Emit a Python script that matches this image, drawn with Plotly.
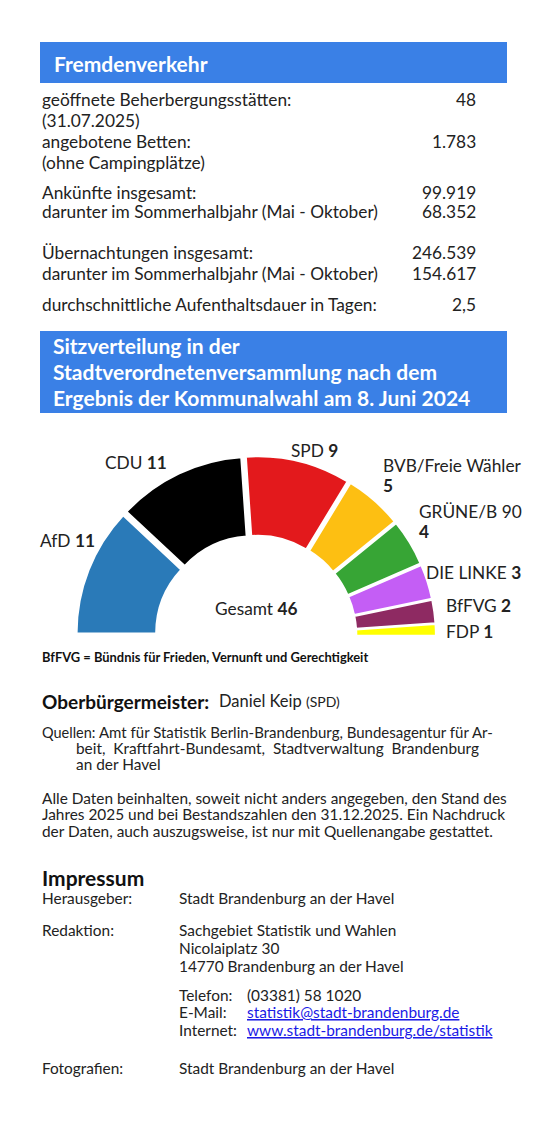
import plotly.graph_objects as go

W, H = 552, 1128
parties = ["AfD", "CDU", "SPD", "BVB/Freie Wähler", "GRÜNE/B 90", "DIE LINKE", "BfFVG", "FDP"]
seats = [11, 11, 9, 5, 4, 3, 2, 1]
colors = ["#2a7ab8", "#000000", "#e3191c", "#fdbf12", "#37a535", "#c45ef5", "#8e2a62", "#ffff00"]
total = sum(seats)

stat_labels = ["geöffnete Beherbergungsstätten:", "angebotene Betten:", "Ankünfte insgesamt:",
               "darunter im Sommerhalbjahr (Mai - Oktober)", "Übernachtungen insgesamt:",
               "darunter im Sommerhalbjahr (Mai - Oktober)", "durchschnittliche Aufenthaltsdauer in Tagen:"]
stat_values = ["48", "1.783", "99.919", "68.352", "246.539", "154.617", "2,5"]
stat_y = [101, 143, 193, 213, 253, 274, 305]

FONT = "Lato"
OX, OY = -8, -9   # page body margin compensation
fig = go.Figure()

R = 173
PULL = 0.04
cx, cy = 248, 628
D = R * (1 + PULL)
fig.add_trace(go.Pie(
    values=seats + [total], labels=parties + [""], sort=False, direction="clockwise",
    rotation=-90, hole=0.54, textinfo="none", hoverinfo="skip", showlegend=False,
    pull=[PULL] * len(seats) + [0],
    marker=dict(colors=colors + ["rgba(0,0,0,0)"], line=dict(color="white", width=2)),
    domain=dict(x=[(cx - D) / W, (cx + D) / W], y=[1 - (cy + D) / H, 1 - (cy - D) / H]),
))

def px(x, y):
    return (x + OX - 2) / W, 1 - (y + OY) / H

def txt(x, y, s, size=17.3, color="#222", anchor="left", bold=False):
    xx, yy = px(x, y)
    if anchor == "right":
        xx += 4 / W
    if bold:
        s = "<b>" + s + "</b>"
    fig.add_annotation(x=xx, y=yy, xref="paper", yref="paper", text=s, showarrow=False,
                       xanchor=anchor, yanchor="middle", align="left",
                       font=dict(family=FONT, size=size, color=color))

blue = "#3a80e6"
for y0, y1 in [(43, 84), (332, 414)]:
    fig.add_shape(type="rect", xref="paper", yref="paper", x0=(40 + OX) / W, x1=(507 + OX) / W,
                  y0=1 - (y1 + OY) / H, y1=1 - (y0 + OY) / H, fillcolor=blue, line=dict(width=0), layer="below")

txt(54, 65, "Fremdenverkehr", 21, "white", bold=True)
for lab, val, y in zip(stat_labels, stat_values, stat_y):
    txt(42, y, lab)
    txt(476, y, val, anchor="right")
txt(42, 121, "(31.07.2025)")
txt(42, 163, "(ohne Campingplätze)")
for y, s in [(347, "Sitzverteilung in der"), (372, "Stadtverordnetenversammlung nach dem"),
             (398, "Ergebnis der Kommunalwahl am 8. Juni 2024")]:
    txt(53, y, s, 21, "white", bold=True)

CS = 17.3
lab_pos = [(40, 541), (105, 463), (291, 451), (383, 466), (419, 512), (426, 573), (446, 606), (446, 632)]
for p, s, (x, y) in zip(parties, seats, lab_pos):
    if p in ("BVB/Freie Wähler", "GRÜNE/B 90"):
        txt(x, y, p, CS)
        txt(x, y + 20, "<b>%d</b>" % s, CS)
    else:
        txt(x, y, "%s <b>%d</b>" % (p, s), CS)
txt(258, 609, "Gesamt <b>%d</b>" % total, CS, anchor="center")
txt(42, 658, "BfFVG = Bündnis für Frieden, Vernunft und Gerechtigkeit", 12.9, "#111", bold=True)

txt(42, 702, "<b>Oberbürgermeister:</b>", 19, "#111")
txt(219, 702, "Daniel Keip <span style='font-size:14px'>(SPD)</span>", 16.5)
QS = 15.4
txt(42, 733, "Quellen:", 14.5)
txt(99, 733, "Amt für Statistik Berlin-Brandenburg, Bundesagentur für Ar-", 15)
txt(76, 749, "beit,  Kraftfahrt-Bundesamt,  Stadtverwaltung  Brandenburg", QS)
txt(76, 765, "an der Havel", QS)
txt(42, 799, "Alle Daten beinhalten, soweit nicht anders angegeben, den Stand des", QS)
txt(42, 815, "Jahres 2025 und bei Bestandszahlen den 31.12.2025. Ein Nachdruck", QS)
txt(42, 832, "der Daten, auch auszugsweise, ist nur mit Quellenangabe gestattet.", QS)

txt(42, 878, "Impressum", 21, "#111", bold=True)
txt(42, 899, "Herausgeber:", QS)
txt(179, 899, "Stadt Brandenburg an der Havel", QS)
txt(42, 931, "Redaktion:", QS)
txt(179, 931, "Sachgebiet Statistik und Wahlen", QS)
txt(179, 949, "Nicolaiplatz 30", QS)
txt(179, 967, "14770 Brandenburg an der Havel", QS)
txt(179, 996, "Telefon:", QS)
txt(247, 996, "(03381) 58 1020", QS)
txt(179, 1013, "E-Mail:", QS)
txt(247, 1013, "<span style='text-decoration:underline'>statistik@stadt-brandenburg.de</span>", QS, "#1a1ae6")
txt(179, 1031, "Internet:", QS)
txt(247, 1031, "<span style='text-decoration:underline'>www.stadt-brandenburg.de/statistik</span>", QS, "#1a1ae6")
txt(42, 1069, "Fotografien:", QS)
txt(179, 1069, "Stadt Brandenburg an der Havel", QS)

fig.update_layout(width=W, height=H, margin=dict(l=0, r=0, t=0, b=0),
                  paper_bgcolor="white", plot_bgcolor="white", showlegend=False)
fig.write_html("out.html")
